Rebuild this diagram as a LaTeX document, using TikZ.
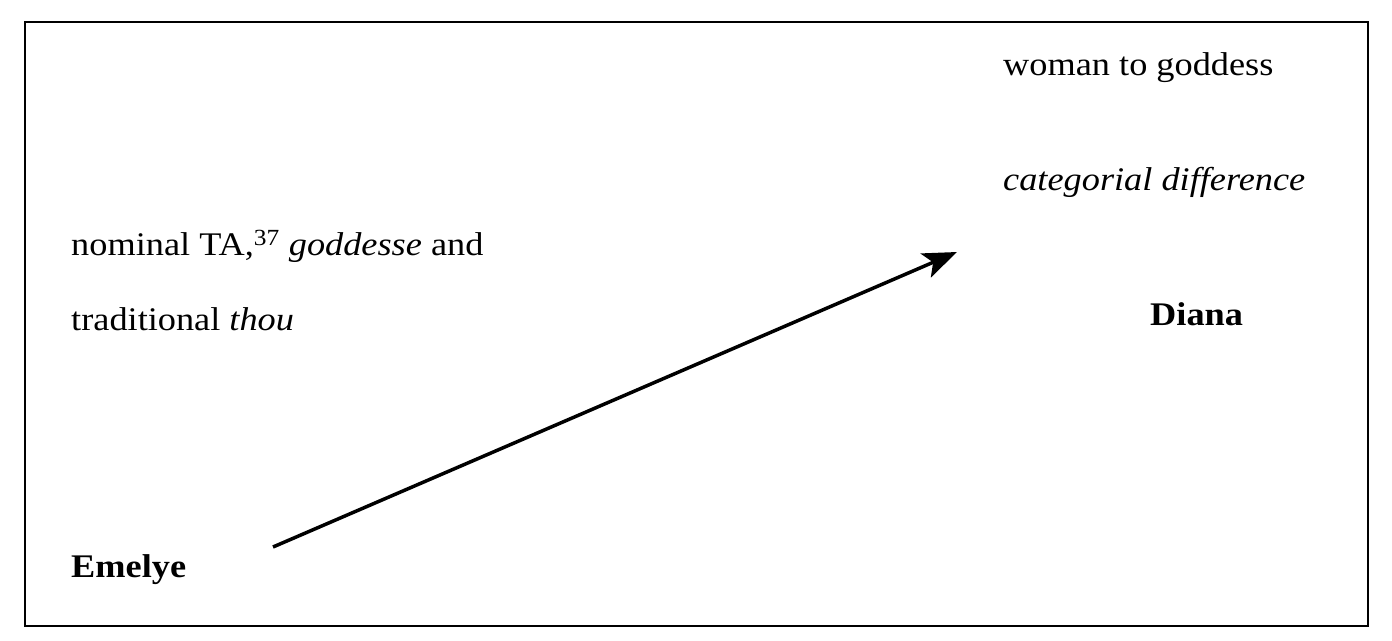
\documentclass[tikz,border=0pt]{standalone}
\usepackage{fontspec}
\setmainfont{Liberation Serif}
\usetikzlibrary{arrows.meta}
\begin{document}
\begin{tikzpicture}[x=1pt,y=-1pt,
  lbl/.style={anchor=base west,inner sep=0pt,xscale=1.1,font=\fontsize{33}{38}\selectfont},
  arr/.style={line width=3.5pt,-{Stealth[length=34pt,width=26pt,inset=8pt]}}]
\useasboundingbox (0,0) rectangle (1392,640);
\draw[line width=1.5pt] (25,22) rectangle (1368,626);
\node[lbl] (w) at (1003,75) {woman to goddess};
\node[lbl] (c) at (1003,190) {\itshape categorial difference};
\node[lbl] (n) at (71,255) {nominal TA,\textsuperscript{37} \textit{goddesse} and};
\node[lbl] (t) at (71,330) {traditional \textit{thou}};
\node[lbl,font=\fontsize{33}{38}\selectfont\bfseries] (d) at (1150,325) {Diana};
\node[lbl,font=\fontsize{33}{38}\selectfont\bfseries] (e) at (71,577) {Emelye};
\coordinate (s) at (273,547);
\coordinate (f) at (957,252);
\draw[arr] (s) -- (f);
\end{tikzpicture}
\end{document}
